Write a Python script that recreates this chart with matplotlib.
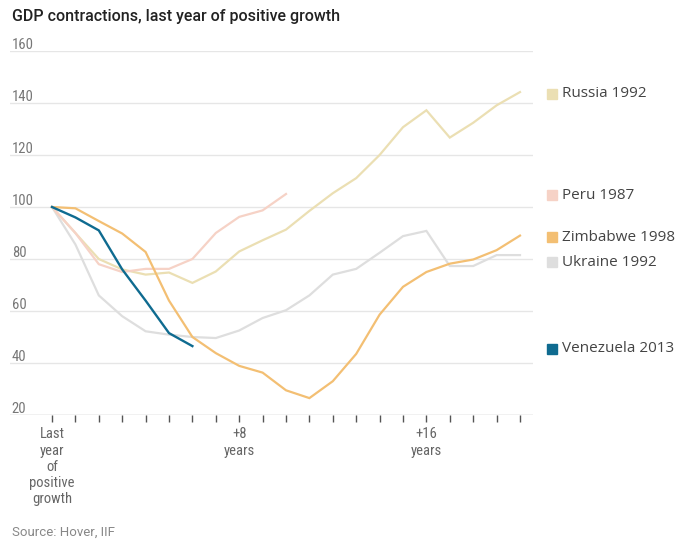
import matplotlib
matplotlib.use("Agg")
import matplotlib.pyplot as plt
import matplotlib.patches as mpatches

# ---- data ----
years = list(range(21))
russia = [100, 90, 80, 76, 74, 74.8, 70.8, 75.2, 82.9, 87.2, 91.3, 98.5, 105.3, 111.1,
          120, 130.7, 137.2, 126.7, 132.4, 139.1, 144.2]
peru = [100, 90, 78, 75, 76.2, 76.2, 80, 90, 96.2, 98.7, 105]
zimbabwe = [100, 99.5, 94.6, 89.8, 82.7, 64, 50, 43.8, 38.9, 36.3, 29.5, 26.5, 33, 43.5,
            58.6, 69.3, 75, 78.2, 79.8, 83.4, 89]
ukraine = [100, 85.6, 66, 58, 52.2, 50.9, 50, 49.6, 52.5, 57.3, 60.3, 66, 74, 76.2,
           82.4, 88.8, 90.8, 77.3, 77.3, 81.5, 81.5]
venezuela = [100, 96, 91, 76, 64, 51.5, 46.5]

series_names = ["Russia 1992", "Peru 1987", "Zimbabwe 1998", "Ukraine 1992", "Venezuela 2013"]
y_ticks = [20, 40, 60, 80, 100, 120, 140, 160]
x_tick_labels = {0: "Last\nyear\nof\npositive\ngrowth", 8: "+8\nyears", 16: "+16\nyears"}

colors = {
    "Russia 1992": "#ebdfb3",
    "Peru 1987": "#f6d2c6",
    "Zimbabwe 1998": "#f3bf73",
    "Ukraine 1992": "#dedede",
    "Venezuela 2013": "#0f6b90",
}
# legend label vertical placement (data units), nudged to avoid overlaps
label_y = {"Russia 1992": 143.5, "Peru 1987": 104.6, "Zimbabwe 1998": 88.3,
           "Ukraine 1992": 78.7, "Venezuela 2013": 45.5}

NARROW = ["Liberation Sans Narrow", "Roboto Condensed", "Roboto", "DejaVu Sans"]

W, H = 680, 554
fig = plt.figure(figsize=(W / 100, H / 100), dpi=100)
ax_left, ax_right = 10 / W, 533 / W
ax_bottom, ax_top = (H - 415) / H, (H - 51) / H
ax = fig.add_axes([ax_left, ax_bottom, ax_right - ax_left, ax_top - ax_bottom])

x0, dx = 52, 23.4
xmin = (10 - x0) / dx
xmax = (533 - x0) / dx
ax.set_xlim(xmin, xmax)
ax.set_ylim(20, 160)

for s in ax.spines.values():
    s.set_visible(False)

# gridlines
for v in y_ticks:
    ax.axhline(v, color="#e6e6e6", lw=1.0, zorder=0)
ax.axhline(20, color="#d0d0d0", lw=1.0, zorder=0)

# y labels above gridlines
for v in y_ticks:
    ax.text(xmin + 0.08, v - 0.3, str(v), fontsize=10.5, color="#777777",
            family=NARROW, ha="left", va="bottom", clip_on=False)

ax.set_yticks([])
ax.set_xticks(years)
ax.set_xticklabels([x_tick_labels.get(i, "") for i in years],
                   fontsize=10.5, color="#666666", family=NARROW,
                   linespacing=1.2)
ax.tick_params(axis="x", length=5, width=1, color="#555555", pad=4)

data = {"Ukraine 1992": ukraine, "Russia 1992": russia, "Peru 1987": peru,
        "Zimbabwe 1998": zimbabwe, "Venezuela 2013": venezuela}
for name in ["Ukraine 1992", "Russia 1992", "Peru 1987", "Zimbabwe 1998", "Venezuela 2013"]:
    vals = data[name]
    ax.plot(range(len(vals)), vals, color=colors[name], lw=1.6 if name != "Venezuela 2013" else 1.7,
            solid_joinstyle="miter", zorder=2)

# end labels (legend)
for name in series_names:
    yv = label_y[name]
    yfig = ax.transData.transform((0, yv))[1] / H
    fig.patches.append(mpatches.Rectangle((547 / W, yfig - 5 / H), 10 / W, 10 / H,
                                          transform=fig.transFigure, color=colors[name],
                                          figure=fig))
    fig.text(562 / W, yfig, name, fontsize=11, color="#444444", ha="left", va="center",
             family=["Open Sans", "DejaVu Sans"])

fig.text(12 / W, 1 - 16 / H, "GDP contractions, last year of positive growth",
         fontsize=11.5, color="#222222", ha="left", va="center", weight="medium",
         family=["Roboto", "DejaVu Sans"])
fig.text(12 / W, 1 - 532 / H, "Source: Hover, IIF", fontsize=9.5, color="#888888",
         ha="left", va="center", family=["Roboto", "DejaVu Sans"])

fig.savefig("out.png", dpi=100)
